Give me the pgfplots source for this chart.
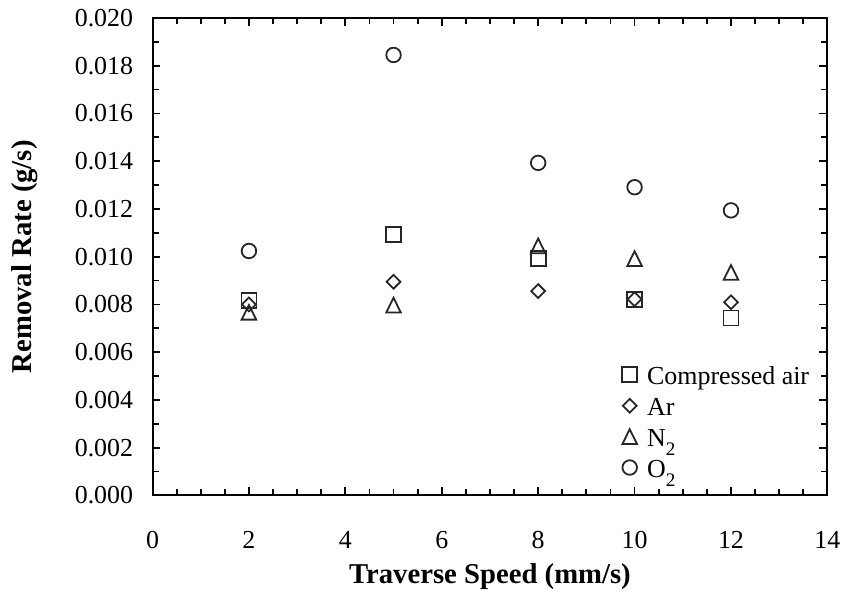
\documentclass[border=0pt]{standalone}
\usepackage{fontspec}
\setmainfont{Liberation Serif}
\usepackage{pgfplots}
\pgfplotsset{compat=1.18}

% lowered subscript at a readable size
\newcommand{\sub}[1]{\raisebox{-4.5pt}{\fontsize{9.6}{11}\selectfont #1}}

\begin{document}
\begin{tikzpicture}
\begin{axis}[
  scale only axis,
  width=338.5pt, height=239.5pt,
  xmin=0, xmax=14, ymin=0, ymax=0.020,
  xtick={0,2,4,6,8,10,12,14},
  ytick={0,0.002,0.004,0.006,0.008,0.010,0.012,0.014,0.016,0.018,0.020},
  minor x tick num=3,
  minor y tick num=1,
  tick align=inside,
  major tick length=4pt,
  minor tick length=3pt,
  axis line style={line width=1pt},
  every tick/.style={black, line width=0.9pt},
  /pgf/number format/assume math mode=true,
  tick label style={font=\fontsize{13}{15.6}\selectfont},
  scaled y ticks=false,
  y tick label style={/pgf/number format/fixed, /pgf/number format/fixed zerofill, /pgf/number format/precision=3, xshift=-6.2pt},
  x tick label style={yshift=-14.5pt},
  xlabel={Traverse Speed (mm/s)},
  ylabel={Removal Rate (g/s)},
  every axis x label/.style={at={(rel axis cs:0.5,-0.170)}, anchor=center, font=\fontsize{14.4}{17}\selectfont\bfseries},
  every axis y label/.style={at={(rel axis cs:-0.189,0.5)}, anchor=center, rotate=90, font=\fontsize{14.4}{17}\selectfont\bfseries},
  clip=false,
  only marks,
  every axis plot/.append style={line width=0.9pt, black!85},
  legend image code/.code={\draw[mark repeat=2,mark phase=2,#1] plot coordinates {(0pt,0pt)(5pt,0pt)(10pt,0pt)};},
  legend cell align=left,
  legend style={at={(rel axis cs:0.696,0.285)}, anchor=north west, draw=none, fill=none,
    inner sep=0pt, outer sep=0pt, column sep=5pt, row sep=0pt,
    nodes={inner sep=0pt, text height=12.75pt, text depth=2.75pt},
    font=\fontsize{13}{15.6}\selectfont},
]
% Compressed air
\addplot[mark=square, mark size=3.75pt] coordinates {
  (2,0.00815) (5,0.01094) (8,0.00992) (10,0.00822) (12,0.00743)};
\addlegendentry{Compressed air}
% Argon
\addplot[mark=square, mark size=2.45pt, mark options={rotate=45}] coordinates {
  (2,0.00800) (5,0.00895) (8,0.00856) (10,0.00822) (12,0.00809)};
\addlegendentry{Ar}
% Nitrogen
\addplot[mark=triangle, mark size=4.2pt, mark options={yshift=-1.2pt, yscale=1.17}] coordinates {
  (2,0.00767) (5,0.00797) (8,0.01045) (10,0.00992) (12,0.00934)};
\addlegendentry{N\sub{2}}
% Oxygen
\addplot[mark=o, mark size=3.65pt] coordinates {
  (2,0.01024) (5,0.01845) (8,0.01393) (10,0.01291) (12,0.01194)};
\addlegendentry{O\sub{2}}
% page margins around the axis box
\path (rel axis cs:-0.2260,-0.2338) rectangle (rel axis cs:1.0251,1.0376);
\end{axis}
\end{tikzpicture}
\end{document}
